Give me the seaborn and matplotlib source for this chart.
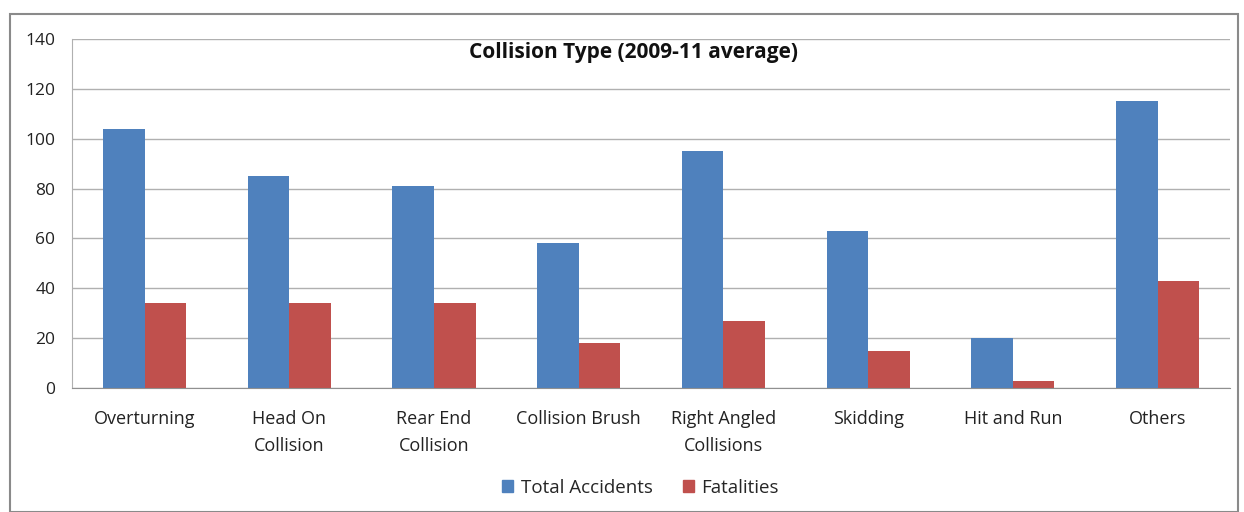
import matplotlib
matplotlib.use("Agg")
import matplotlib.pyplot as plt
import matplotlib.patches as mpatches
import seaborn as sns
import pandas as pd
import numpy as np

# values (2009-11 average)
categories = ["Overturning", "Head On\nCollision", "Rear End\nCollision", "Collision Brush",
              "Right Angled\nCollisions", "Skidding", "Hit and Run", "Others"]
total_accidents = [104, 85, 81, 58, 95, 63, 20, 115]
fatalities = [34, 34, 34, 18, 27, 15, 3, 43]
series = ["Total Accidents", "Fatalities"]
colors = ["#4F81BD", "#C0504D"]

df = pd.DataFrame({"Category": categories, series[0]: total_accidents, series[1]: fatalities})
df = df.melt(id_vars="Category", var_name="Series", value_name="Value")

sns.set_style("white")
plt.rcParams["font.family"] = ["Open Sans", "DejaVu Sans"]

fig = plt.figure(figsize=(12.44, 5.12), dpi=100)
ax = fig.add_axes([0.058, 0.242, 0.9307, 0.682])

sns.barplot(data=df, x="Category", y="Value", hue="Series", palette=colors,
            width=0.575, saturation=1, linewidth=0, ax=ax, legend=False)

ax.set_ylim(0, 140)
ax.set_yticks(np.arange(0, 141, 20))
ax.set_xlim(-0.5, len(categories) - 0.5)
ax.yaxis.grid(True, color="#b0b0b0", linewidth=1)
ax.set_axisbelow(True)
ax.set_xlabel("")
ax.set_ylabel("")
for s in ["top", "right"]:
    ax.spines[s].set_visible(False)
ax.spines["left"].set_color("#b0b0b0")
ax.spines["bottom"].set_color("#909090")

ax.tick_params(axis="x", which="major", length=0, pad=16, labelsize=13, labelcolor="#222222")
ax.tick_params(axis="y", length=0, pad=12, labelsize=12.5, labelcolor="#222222")
for lbl in ax.get_xticklabels():
    lbl.set_linespacing(1.65)
ax.set_xticks(np.arange(-0.5, len(categories), 1), minor=True)
ax.tick_params(axis="x", which="minor", length=5, color="#909090", direction="out")

ax.text(0.485, 0.96, "Collision Type (2009-11 average)", transform=ax.transAxes,
        ha="center", va="center", fontsize=15, fontweight="bold", color="#111111")

handles = [mpatches.Patch(color=c, label=l) for c, l in zip(colors, series)]
fig.legend(handles=handles, loc="center", bbox_to_anchor=(0.515, 0.047), ncol=2,
           frameon=False, fontsize=13.5, handlelength=0.6, handleheight=0.6,
           handletextpad=0.4, columnspacing=1.6)

# outer chart border
fig.patches.append(mpatches.Rectangle((10 / 1244, 0), 1228 / 1244, 1 - 14 / 512,
                                      transform=fig.transFigure, fill=False,
                                      edgecolor="#8a8a8a", linewidth=1.5))

fig.savefig("out.png", dpi=100)
